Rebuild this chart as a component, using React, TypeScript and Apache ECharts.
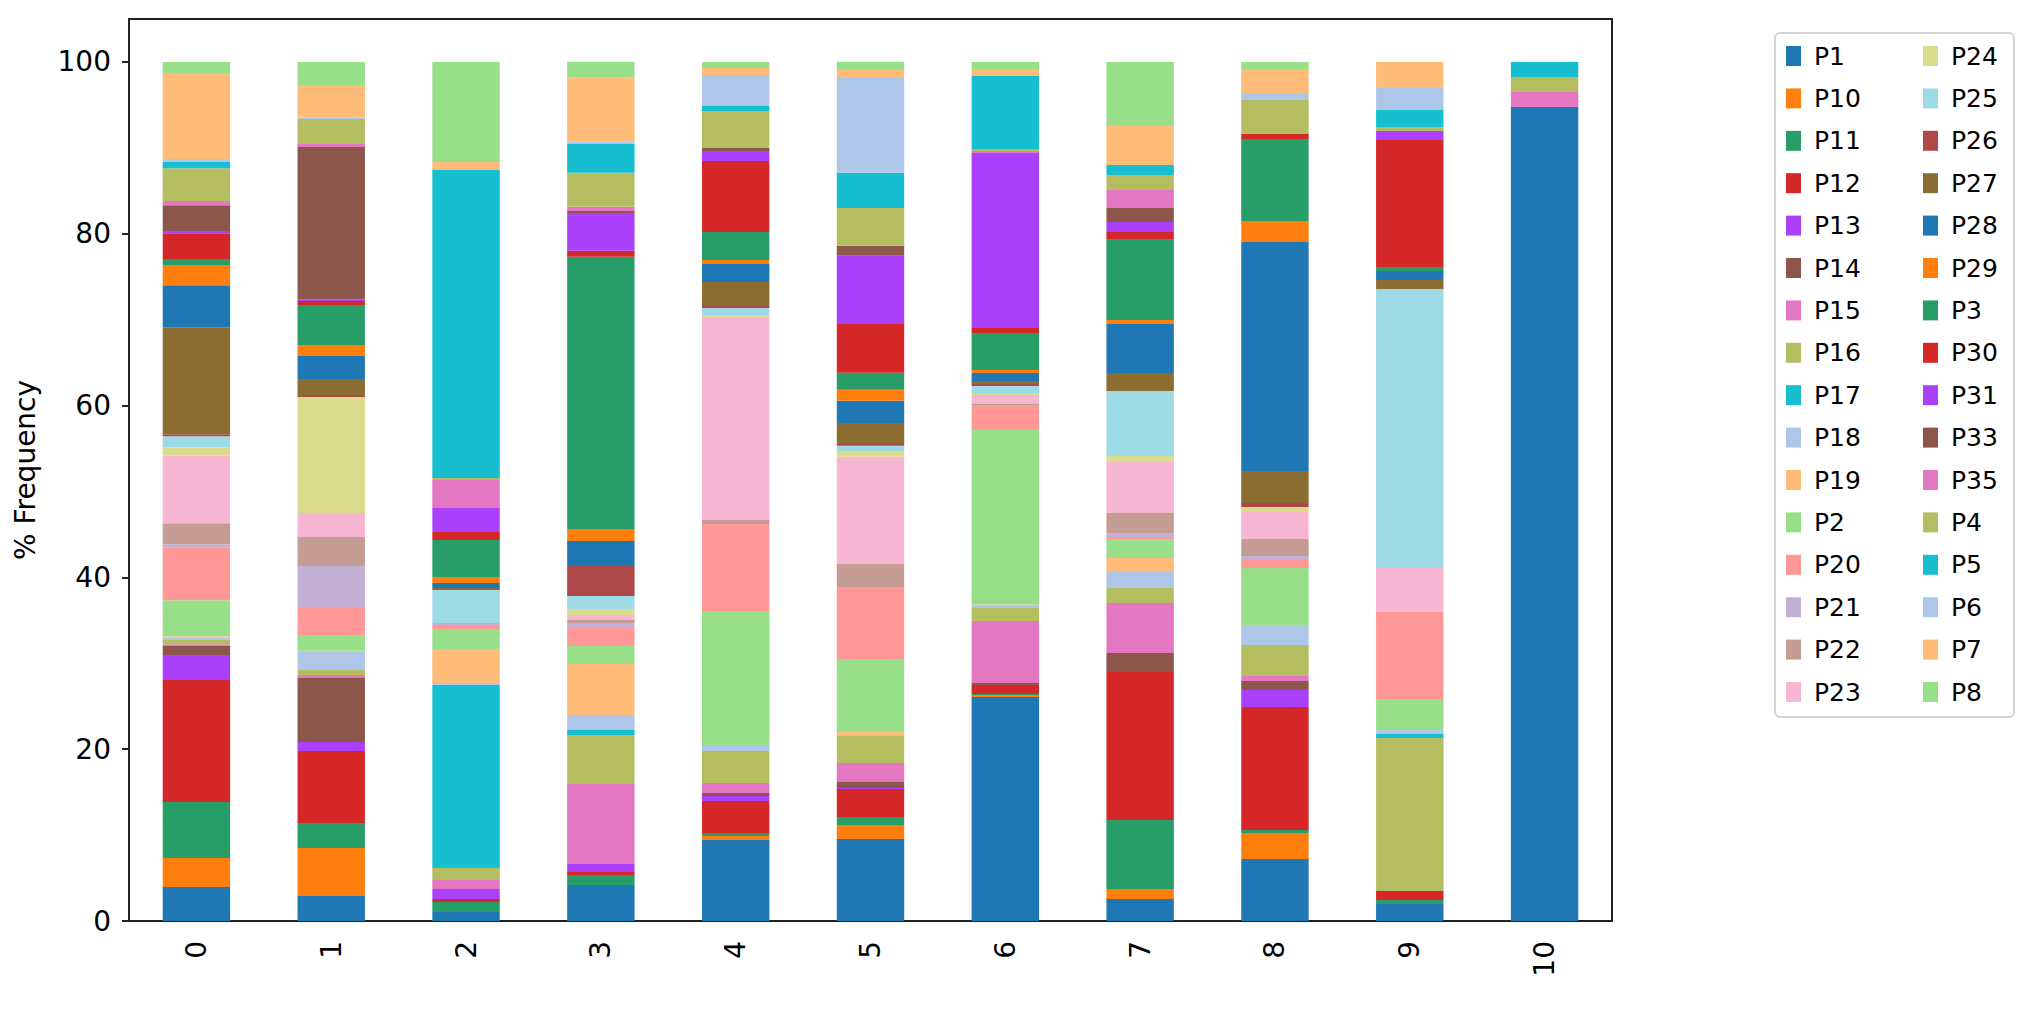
import React, { useEffect, useRef } from "react";
import * as echarts from "echarts";

const categories = ["0", "1", "2", "3", "4", "5", "6", "7", "8", "9", "10"];

const seriesNames = [
  "P1", "P10", "P11", "P12", "P13", "P14", "P15", "P16", "P17", "P18", "P19", "P2", "P20", "P21", "P22", "P23",
  "P24", "P25", "P26", "P27", "P28", "P29", "P3", "P30", "P31", "P33", "P35", "P4", "P5", "P6", "P7", "P8",
];

const palette = [
  "#1f77b4", "#ff7f0e", "#279e68", "#d62728", "#aa40fc", "#8c564b", "#e377c2", "#b5bd61", "#17becf", "#aec7e8",
  "#ffbb78", "#98df8a", "#ff9896", "#c5b0d5", "#c49c94", "#f7b6d2", "#dbdb8d", "#9edae5", "#ad494a", "#8c6d31",
];

const yTicks = [0, 20, 40, 60, 80, 100];

// values per bar, in series (legend) order, % frequency
const bar0 = [3.96, 3.37, 6.52, 14.2, 2.9, 1.05, 0.23, 0.58, 0, 0.15, 0.2, 4.19, 6.17, 0.35, 2.44, 7.84, 1.01, 1.28, 0.23, 12.46, 4.89, 2.33, 0.7, 3.02, 0.24, 3.02, 0.47, 3.84, 0.7, 0.35, 10.01, 1.28];
const bar1 = [2.91, 5.59, 2.91, 8.38, 1.05, 7.45, 0.35, 0.58, 0, 2.1, 0.15, 1.82, 3.26, 4.78, 3.37, 2.8, 13.5, 0, 0.23, 1.87, 2.67, 1.28, 4.66, 0.47, 0.19, 17.73, 0.35, 2.91, 0, 0.16, 3.8, 2.68];
const bar2 = [1.05, 0, 1.16, 0.35, 1.16, 0, 1.05, 1.4, 21.3, 0.23, 3.96, 2.33, 0.47, 0.23, 0, 0, 0, 3.84, 0, 0.23, 0.58, 0.7, 4.3, 0.94, 2.79, 0, 3.26, 0.23, 35.86, 0, 0.93, 11.64];
const bar3 = [4.19, 0, 1.17, 0.35, 0.93, 0, 9.31, 5.7, 0.58, 1.75, 5.94, 2.1, 2.21, 0.47, 0.35, 0.58, 0.7, 1.51, 3.49, 0, 2.91, 1.4, 31.67, 0.7, 4.42, 0.23, 0.47, 3.96, 3.37, 0.24, 7.45, 1.86];
const bar4 = [9.43, 0.47, 0.34, 3.73, 0.58, 0.35, 1.17, 3.72, 0, 0.58, 0, 15.72, 10.13, 0, 0.46, 23.52, 0.35, 0.81, 0.24, 2.79, 2.09, 0.47, 3.26, 8.27, 1.16, 0.35, 0, 4.31, 0.58, 3.61, 0.81, 0.7];
const bar5 = [9.55, 1.63, 0.93, 3.26, 0.11, 0.7, 2.21, 3.15, 0, 0.12, 0.35, 8.5, 8.38, 0, 2.68, 12.46, 0.69, 0.59, 0.23, 2.44, 2.57, 1.28, 1.98, 5.7, 7.92, 1.16, 0, 4.42, 4.08, 11.17, 0.93, 0.82];
const bar6 = [26.08, 0.23, 0.12, 1.04, 0, 0.24, 7.21, 1.52, 0, 0.23, 0.16, 20.33, 2.91, 0, 0.12, 1.04, 0.24, 0.81, 0.23, 0.35, 0.94, 0.34, 4.31, 0.58, 20.38, 0, 0.23, 0.23, 8.5, 0, 0.81, 0.82];
const bar7 = [2.56, 1.17, 8.03, 17.23, 0, 2.21, 5.82, 1.75, 0, 1.86, 1.63, 2.21, 0.23, 0.47, 2.33, 5.93, 0.7, 7.57, 0, 2.1, 5.7, 0.47, 9.42, 0.82, 1.16, 1.63, 2.1, 1.75, 1.16, 0, 4.66, 7.33];
const bar8 = [7.22, 3.02, 0.35, 14.32, 1.98, 1.05, 0.58, 3.61, 0, 2.33, 0, 6.63, 0.94, 0.46, 1.98, 3.14, 0.59, 0, 0.46, 3.73, 26.66, 2.44, 9.55, 0.58, 0, 0, 0, 3.96, 0, 0.81, 2.79, 0.82];
const bar9 = [1.98, 0, 0.46, 1.05, 0, 0, 0, 17.81, 0.47, 0.47, 0, 3.6, 10.13, 0, 0, 5.12, 0, 32.48, 0, 1.05, 1.05, 0, 0.47, 14.78, 1.05, 0, 0, 0.46, 1.98, 2.56, 3.03, 0];
const bar10 = [94.76, 0, 0, 0, 0, 0, 1.75, 1.74, 1.75, 0, 0, 0, 0, 0, 0, 0, 0, 0, 0, 0, 0, 0, 0, 0, 0, 0, 0, 0, 0, 0, 0, 0];

const bars = [bar0, bar1, bar2, bar3, bar4, bar5, bar6, bar7, bar8, bar9, bar10];

const FONT = "DejaVu Sans";

export default function App() {
  const ref = useRef<HTMLDivElement>(null);

  useEffect(() => {
    if (!ref.current) return;
    const chart = echarts.init(ref.current, undefined, { renderer: "svg" });

    const series = seriesNames.map((name, i) => ({
      name,
      type: "bar",
      stack: "total",
      barWidth: "50%",
      itemStyle: { color: palette[i % palette.length] },
      data: bars.map((b) => b[i]),
    }));

    const legendCommon = {
      orient: "vertical",
      top: 43.5,
      itemWidth: 15,
      itemHeight: 20,
      itemGap: 17.4,
      icon: "rect",
      selectedMode: false,
      padding: 0,
      textStyle: {
        fontFamily: FONT,
        fontSize: 25,
        color: "#000",
        lineHeight: 20,
        padding: [0, 0, 0, 8],
      },
    };

    chart.setOption({
      animation: false,
      backgroundColor: "#fff",
      grid: {
        left: 129,
        right: 418,
        top: 19,
        bottom: 110,
        show: true,
        borderColor: "#222",
        borderWidth: 2,
        containLabel: false,
      },
      legend: [
        { ...legendCommon, left: 1786, data: seriesNames.slice(0, 16) },
        { ...legendCommon, left: 1923, data: seriesNames.slice(16) },
      ],
      graphic: [
        {
          type: "rect",
          shape: { x: 1775, y: 33, width: 239, height: 684, r: 5 },
          style: { fill: "none", stroke: "#d4d4d4", lineWidth: 2 },
          z: -1,
        },
      ],
      xAxis: {
        type: "category",
        data: categories,
        boundaryGap: true,
        axisLine: { lineStyle: { color: "#222", width: 2 } },
        axisTick: { alignWithLabel: true, length: 7, lineStyle: { color: "#222", width: 2 } },
        axisLabel: { rotate: 90, fontSize: 28, fontFamily: FONT, color: "#000", margin: 20 },
      },
      yAxis: {
        type: "value",
        min: 0,
        max: 105,
        interval: 20,
        name: "% Frequency",
        nameLocation: "middle",
        nameRotate: 90,
        nameGap: 90,
        nameTextStyle: { fontSize: 28, fontFamily: FONT, color: "#000" },
        splitLine: { show: false },
        axisLine: { show: true, lineStyle: { color: "#222", width: 2 } },
        axisTick: { show: true, length: 7, customValues: yTicks, lineStyle: { color: "#222", width: 2 } },
        axisLabel: { fontSize: 28, fontFamily: FONT, color: "#000", margin: 18, customValues: yTicks },
      },
      series,
    });

    return () => chart.dispose();
  }, []);

  return (
    <div
      ref={ref}
      style={{ position: "fixed", left: 0, top: 0, width: 2030, height: 1031 }}
    />
  );
}
